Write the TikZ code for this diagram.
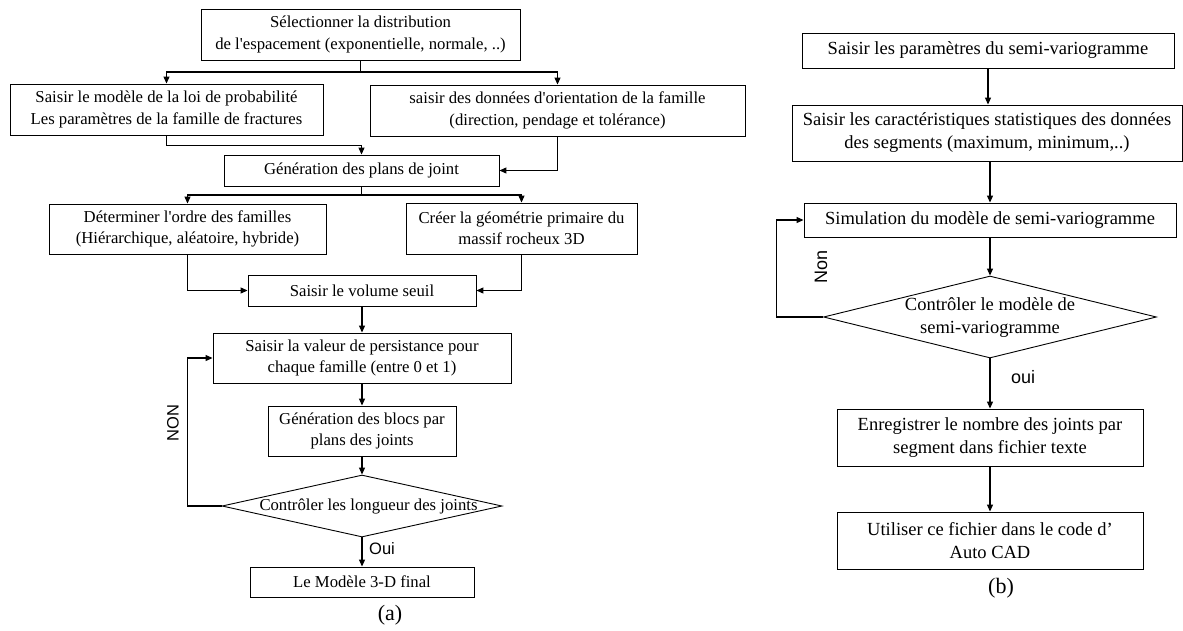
\documentclass[tikz,border=0pt]{standalone}
\usepackage{fontspec}
\setmainfont{Liberation Serif}
\newfontfamily\labfont{Liberation Sans}
\usetikzlibrary{arrows.meta,shapes.geometric}
\begin{document}
\begin{tikzpicture}[x=1pt,y=-1pt,
 box/.style={draw, line width=0.9pt, inner sep=0pt, align=center, font=\fontsize{16.7}{21.5}\selectfont},
 rbox/.style={box, font=\fontsize{18.5}{23}\selectfont},
 dia/.style={draw, diamond, line width=0.9pt, inner sep=0pt},
 arr/.style={line width=1.1pt, -{Triangle[length=7pt,width=6pt]}},
 ln/.style={line width=1.1pt},
 lab/.style={font=\labfont\fontsize{16.5}{18}\selectfont, inner sep=0pt},
 rlab/.style={font=\labfont\fontsize{18}{20}\selectfont, inner sep=0pt},
 captxt/.style={font=\fontsize{22}{24}\selectfont, inner sep=0pt}]
\useasboundingbox (0,0) rectangle (1183,630);

% ---------- panel (a) ----------
\node[box, minimum width=319pt, minimum height=51pt] (b1) at (360.5,34.5)
  {Sélectionner la distribution\\de l\textquotesingle espacement (exponentielle, normale, ..)};
\node[box, minimum width=313pt, minimum height=51pt] (b2) at (166.5,109.5)
  {Saisir le modèle de la loi de probabilité\\Les paramètres de la famille de fractures};
\node[box, minimum width=375pt, minimum height=51pt] (b3) at (557.5,110.5)
  {saisir des données d\textquotesingle orientation de la famille\\(direction, pendage et tolérance)};
\node[box, minimum width=275pt, minimum height=31pt] (b4) at (361.5,170.5)
  {Génération des plans de joint};
\node[box, minimum width=277pt, minimum height=50pt] (b5) at (187.5,229)
  {Déterminer l\textquotesingle ordre des familles\\(Hiérarchique, aléatoire, hybride)};
\node[box, minimum width=231pt, minimum height=51pt] (b6) at (521.5,228.5)
  {Créer la géométrie primaire du\\massif rocheux 3D};
\node[box, minimum width=228pt, minimum height=31pt] (b7) at (362,290.5)
  {Saisir le volume seuil};
\node[box, minimum width=298pt, minimum height=50pt] (b8) at (362,358)
  {Saisir la valeur de persistance pour\\chaque famille (entre 0 et 1)};
\node[box, minimum width=188pt, minimum height=50pt] (b9) at (362,431)
  {Génération des blocs par\\plans des joints};
\node[dia, minimum width=280pt, minimum height=62pt] (d1) at (362,506)
  {\makebox[0pt]{\hspace{13pt}\fontsize{16.7}{21.5}\selectfont Contrôler les longueur des joints}};
\node[box, minimum width=224pt, minimum height=30pt] (b10) at (362,582)
  {Le Modèle 3-D final};
\node[captxt] (capa) at (390,615) {(a)};
\node[lab, rotate=90] (non1) at (173,423) {NON};
\node[lab, anchor=west] (oui1) at (369,549) {Oui};

\coordinate (sp1) at (360.5,72);
\coordinate (sp2) at (361.5,195);
\draw[ln] (b1.south) -- (sp1);
\draw[arr] (sp1) -| (b2.north);
\draw[arr] (sp1) -| (b3.north);
\draw[arr] (b2.south) -- ++(0,10) -| (b4.north);
\draw[arr] (b3.south) |- (b4.east);
\draw[ln] (b4.south) -- (sp2);
\draw[arr] (sp2) -| (b5.north);
\draw[arr] (sp2) -| (b6.north);
\draw[arr] (b5.south) |- (b7.west);
\draw[arr] (b6.south) |- (b7.east);
\draw[arr] (b7.south) -- (b8.north);
\draw[arr] (b8.south) -- (b9.north);
\draw[arr] (b9.south) -- (d1.north);
\draw[arr] (d1.south) -- (b10.north);
\draw[arr] (d1.west) -- ++(-34,0) |- (b8.west);

% ---------- panel (b) ----------
\node[rbox, minimum width=372pt, minimum height=35pt] (r1) at (988,50.5)
  {Saisir les paramètres du semi-variogramme};
\node[rbox, minimum width=390pt, minimum height=56pt] (r2) at (987,133)
  {Saisir les caractéristiques statistiques des données\\des segments (maximum, minimum,..)};
\node[rbox, minimum width=372pt, minimum height=34pt] (r3) at (990,220)
  {Simulation du modèle de semi-variogramme};
\node[dia, minimum width=333pt, minimum height=82pt] (d2) at (990,317)
  {\makebox[0pt]{\fontsize{18.5}{23}\selectfont\begin{tabular}{@{}c@{}}Contrôler le modèle de\\semi-variogramme\end{tabular}}};
\node[rbox, minimum width=306pt, minimum height=57pt] (r4) at (990,437.5)
  {Enregistrer le nombre des joints par\\segment dans fichier texte};
\node[rbox, minimum width=306pt, minimum height=57pt] (r5) at (990,540.5)
  {Utiliser ce fichier dans le code d’\\Auto CAD};
\node[captxt] (capb) at (1001,588) {(b)};
\node[rlab, rotate=90] (non2) at (821,267) {Non};
\node[rlab] (oui2) at (1023,377) {oui};

\draw[arr] (r1.south) -- (r1.south |- r2.north);
\draw[arr] (r3.north |- r2.south) -- (r3.north);
\draw[arr] (r3.south) -- (d2.north);
\draw[arr] (d2.south) -- (r4.north);
\draw[arr] (r4.south) -- (r5.north);
\draw[arr] (d2.west) -- ++(-47,0) |- (r3.west);
\end{tikzpicture}
\end{document}
